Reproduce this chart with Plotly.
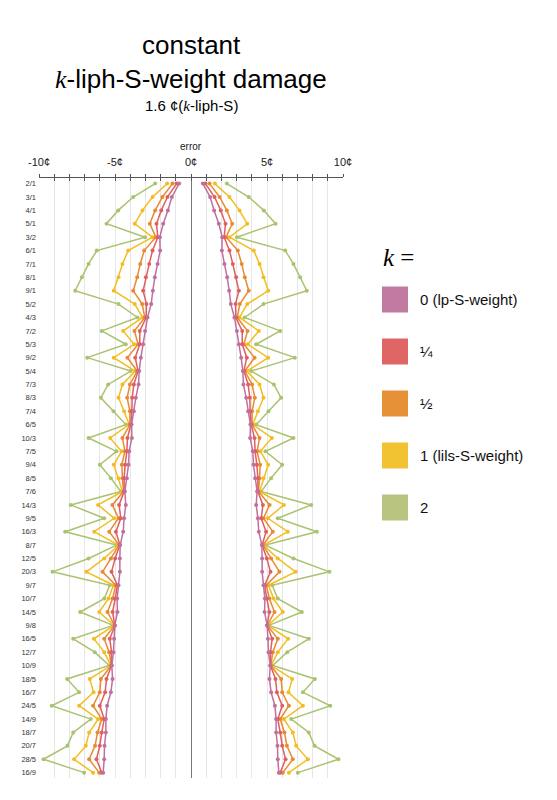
import plotly.graph_objects as go

categories = ["2/1", "3/1", "4/1", "5/1", "3/2", "6/1", "7/1", "8/1", "9/1", "5/2",
              "4/3", "7/2", "5/3", "9/2", "5/4", "7/3", "8/3", "7/4", "6/5", "10/3",
              "7/5", "9/4", "8/5", "7/6", "14/3", "9/5", "16/3", "8/7", "12/5", "20/3",
              "9/7", "10/7", "14/5", "9/8", "16/5", "12/7", "10/9", "18/5", "16/7", "24/5",
              "14/9", "18/7", "20/7", "28/5", "16/9"]

err_k0 = [0.78, 1.26, 1.52, 1.83, 2.05, 2.03, 2.20, 2.38, 2.51, 2.62,
          2.86, 3.02, 3.15, 3.30, 3.41, 3.45, 3.63, 3.76, 3.91, 3.89,
          4.07, 4.11, 4.22, 4.35, 4.29, 4.40, 4.46, 4.66, 4.68, 4.68,
          4.77, 4.86, 4.84, 5.01, 5.06, 5.10, 5.21, 5.16, 5.27, 5.52,
          5.60, 5.60, 5.69, 5.71, 5.78]
err_k14 = [0.95, 1.55, 1.96, 2.27, 2.18, 2.53, 2.75, 2.97, 3.15, 2.93,
           2.95, 3.37, 3.37, 3.67, 3.48, 3.76, 3.87, 3.89, 3.96, 4.18,
           4.22, 4.33, 4.40, 4.40, 4.73, 4.62, 4.94, 4.68, 4.99, 5.23,
           4.84, 4.99, 5.16, 5.01, 5.34, 5.23, 5.23, 5.56, 5.65, 6.00,
           5.71, 5.87, 6.00, 6.22, 5.87]
err_k12 = [1.22, 1.88, 2.36, 2.71, 2.31, 3.08, 3.34, 3.54, 3.80, 3.21,
           3.04, 3.72, 3.48, 4.18, 3.54, 4.02, 4.20, 4.02, 4.02, 4.51,
           4.35, 4.55, 4.51, 4.44, 5.17, 4.77, 5.38, 4.73, 5.27, 5.82,
           4.95, 5.16, 5.49, 5.03, 5.71, 5.38, 5.25, 5.93, 6.00, 6.44,
           5.87, 6.15, 6.31, 6.70, 6.04]
err_k1 = [1.57, 2.53, 3.19, 3.70, 2.53, 4.13, 4.51, 4.77, 5.08, 3.70,
          3.19, 4.46, 3.74, 5.08, 3.67, 4.51, 4.77, 4.40, 4.07, 5.32,
          4.57, 5.08, 4.77, 4.51, 6.11, 5.06, 6.37, 4.77, 5.71, 6.88,
          5.10, 5.43, 6.04, 5.06, 6.39, 5.71, 5.27, 6.66, 6.41, 7.36,
          6.11, 6.70, 6.92, 7.69, 6.44]
err_k2 = [2.36, 3.80, 4.79, 5.56, 3.02, 6.20, 6.74, 7.18, 7.62, 4.77,
          3.52, 5.87, 4.29, 6.83, 3.96, 5.45, 5.93, 5.10, 4.29, 6.74,
          4.90, 6.00, 5.27, 4.62, 7.91, 5.71, 8.28, 4.90, 6.74, 9.11,
          5.34, 5.71, 7.29, 5.12, 7.75, 6.33, 5.38, 8.15, 7.36, 9.16,
          6.59, 7.75, 8.13, 9.70, 7.03]

series_labels = ["0 (lp-S-weight)", "¼", "½", "1 (lils-S-weight)", "2"]
series_values = [err_k0, err_k14, err_k12, err_k1, err_k2]
line_colors = ["#c0709f", "#e05e5e", "#e88a30", "#f3bd22", "#a9c36f"]
legend_colors = ["#c27ba0", "#e06666", "#e69138", "#f1c232", "#b8c47f"]

x_ticks = list(range(-10, 11))
x_ticktext = [f"{v}¢" if v % 5 == 0 else "" for v in x_ticks]

SANS = "Liberation Sans, Arial, sans-serif"
SERIF = "Liberation Serif"

fig = go.Figure()

# draw k=2 first so k=0 ends up on top
for label, vals, col in reversed(list(zip(series_labels, series_values, line_colors))):
    for side in (1, -1):
        fig.add_trace(go.Scatter(
            x=[side * v for v in vals], y=categories, mode="lines+markers",
            line=dict(color=col, width=1.5), marker=dict(color=col, size=4),
            name=label, showlegend=False, hoverinfo="skip"))

# invisible trace to anchor the secondary tick axis
fig.add_trace(go.Scatter(x=[None], y=[None], xaxis="x2", showlegend=False, hoverinfo="skip"))

# page offset of the figure (default body margin)
OFF = 8
# plot area in page pixels: x 39..343, y 178..778
L, R, T, B = 39 - OFF, 343 - OFF, 178 - OFF, 778 - OFF
W, H = 557, 800

def px_x(p):
    return (p - OFF - L) / (R - L)

def px_y(p):
    return (B - (p - OFF)) / (B - T)

annotations = [
    dict(text="constant", x=0.5, y=px_y(45), font=dict(size=26, family=SANS, color="#000")),
    dict(text=f'<span style="font-family:{SERIF}"><i>k</i></span>-liph-S-weight damage',
         x=0.5, y=px_y(79), font=dict(size=26, family=SANS, color="#000")),
    dict(text=f'1.6 ¢(<span style="font-family:{SERIF}"><i>k</i></span>-liph-S)',
         x=0.5, y=px_y(105), font=dict(size=15, family=SANS, color="#000")),
    dict(text="error", x=0.5, y=px_y(146), font=dict(size=10, family=SANS, color="#222")),
    dict(text="<i>k</i> =", x=px_x(381), y=px_y(257), xanchor="left",
         font=dict(size=25, family=SERIF, color="#000")),
]
for a in annotations[:4]:
    a.update(xanchor="center")
for a in annotations:
    a.update(xref="paper", yref="paper", showarrow=False, yanchor="middle")

shapes = []
centers = [299.5, 351.5, 403.5, 455.5, 507.5]
for label, col, c in zip(series_labels, legend_colors, centers):
    shapes.append(dict(type="rect", xref="paper", yref="paper",
                       x0=px_x(382), x1=px_x(408), y0=px_y(c + 13), y1=px_y(c - 13),
                       fillcolor=col, line=dict(width=0)))
    annotations.append(dict(text=label, xref="paper", yref="paper", x=px_x(418), y=px_y(c),
                            xanchor="left", yanchor="middle", showarrow=False,
                            font=dict(size=15, family=SANS, color="#111")))

fig.update_layout(
    width=W, height=H,
    margin=dict(l=L, r=W - R, t=T, b=H - B, pad=0),
    paper_bgcolor="white", plot_bgcolor="white",
    showlegend=False,
    annotations=annotations, shapes=shapes,
    xaxis=dict(side="top", range=[-10, 10], tickmode="array", tickvals=x_ticks,
               ticktext=x_ticktext, ticks="outside", ticklen=3, tickcolor="#555",
               showline=True, linecolor="#555", linewidth=1,
               showgrid=True, gridcolor="#e6e6e6", gridwidth=1,
               zeroline=True, zerolinecolor="#777", zerolinewidth=1,
               ticklabelstandoff=4,
               tickfont=dict(size=11, family=SANS, color="#222"), fixedrange=True),
    xaxis2=dict(overlaying="x", side="top", anchor="y", range=[-10, 10], tickmode="array",
                tickvals=x_ticks, ticks="inside", ticklen=3, tickcolor="#555",
                showticklabels=False, showgrid=False, zeroline=False, showline=False),
    yaxis=dict(type="category", categoryorder="array", categoryarray=categories,
               range=[44.4, -0.42], showgrid=False, zeroline=False, showline=False,
               ticks="", tickfont=dict(size=7.5, family=SANS, color="#333"),
               ticklabelstandoff=2),
)

fig.write_html("out.html")
